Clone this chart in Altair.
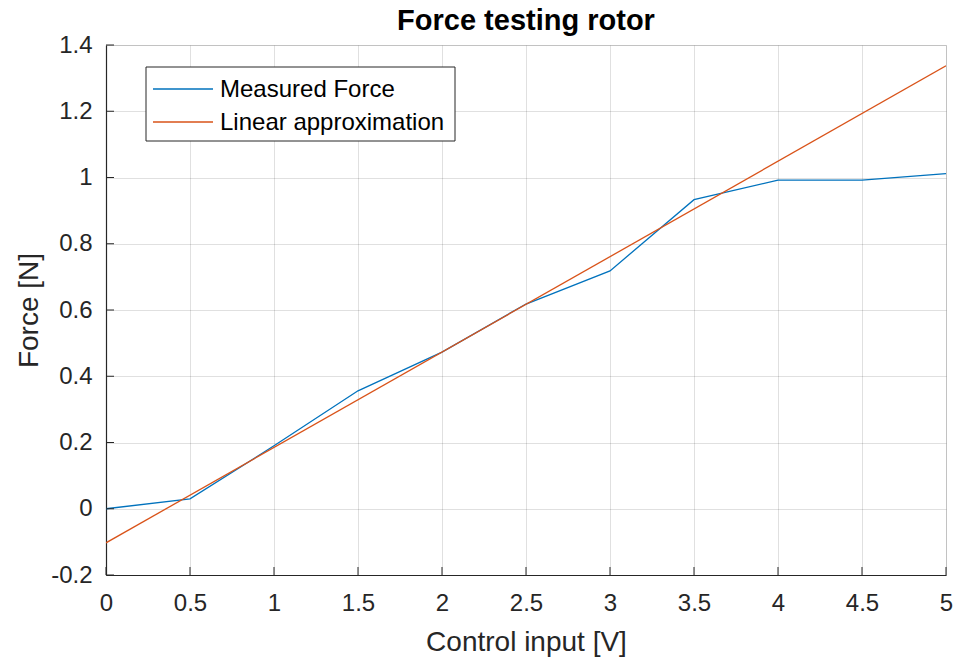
import altair as alt
import pandas as pd

# Data
control_input = [0, 0.5, 1, 1.5, 2, 2.5, 3, 3.5, 4, 4.5, 5]
measured_force = [0.0, 0.030, 0.19, 0.356, 0.473, 0.618, 0.718, 0.933, 0.992, 0.992, 1.012]
linear_x = [0, 5]
linear_y = [-0.103, 1.337]
x_ticks = [0, 0.5, 1, 1.5, 2, 2.5, 3, 3.5, 4, 4.5, 5]
y_ticks = [-0.2, 0, 0.2, 0.4, 0.6, 0.8, 1.0, 1.2, 1.4]
series_names = ["Measured Force", "Linear approximation"]
series_colors = ["#0072BD", "#D95319"]

rows = [{"x": a, "y": b, "series": series_names[0], "order": i}
        for i, (a, b) in enumerate(zip(control_input, measured_force))]
rows += [{"x": a, "y": b, "series": series_names[1], "order": i}
         for i, (a, b) in enumerate(zip(linear_x, linear_y))]
df = pd.DataFrame(rows)

W, H = 840, 530
FONT = "Liberation Sans"

xscale = alt.Scale(domain=[0, 5], nice=False, zero=False)
yscale = alt.Scale(domain=[-0.2, 1.4], nice=False, zero=False)

lines = alt.Chart(df).mark_line(strokeWidth=1.3, clip=True).encode(
    x=alt.X("x:Q", scale=xscale,
            axis=alt.Axis(values=x_ticks, title="Control input [V]",
                          labelExpr="'' + round(datum.value*10)/10",
                          grid=True, tickSize=0, labelPadding=16,
                          labelFlush=False, labelOverlap=False,
                          titlePadding=13)),
    y=alt.Y("y:Q", scale=yscale,
            axis=alt.Axis(values=y_ticks, title="Force [N]",
                          labelExpr="'' + round(datum.value*10)/10",
                          grid=True, tickSize=0, labelPadding=14,
                          labelFlush=False, labelOverlap=False,
                          titlePadding=7)),
    color=alt.Color("series:N",
                    scale=alt.Scale(domain=series_names, range=series_colors),
                    legend=None),
    order="order:Q",
)

xt = pd.DataFrame({"v": x_ticks})
yt = pd.DataFrame({"v": y_ticks})
xticks = alt.Chart(xt).mark_rule(color="#262626", strokeWidth=1).encode(
    x=alt.X("v:Q", scale=xscale), y=alt.value(H), y2=alt.value(H - 8))
yticks = alt.Chart(yt).mark_rule(color="#262626", strokeWidth=1).encode(
    y=alt.Y("v:Q", scale=yscale), x=alt.value(0), x2=alt.value(8))

# Manual legend box (MATLAB style)
one = pd.DataFrame({"k": [0]})
legend_box = alt.Chart(one).mark_rect(fill="white", stroke="#262626",
                                      strokeWidth=1).encode(
    x=alt.value(40), x2=alt.value(349), y=alt.value(22), y2=alt.value(96))
legend_layers = [legend_box]
for i, (name, col) in enumerate(zip(series_names, series_colors)):
    yy = 44 + 33 * i
    legend_layers.append(
        alt.Chart(one).mark_rule(color=col, strokeWidth=1.3).encode(
            x=alt.value(47), x2=alt.value(107), y=alt.value(yy)))
    legend_layers.append(
        alt.Chart(one).mark_text(text=name, align="left", baseline="middle",
                                 font=FONT, fontSize=24, color="#000000").encode(
            x=alt.value(114), y=alt.value(yy + 1)))

chart = alt.layer(lines, xticks, yticks, *legend_layers).properties(
    width=W, height=H,
    background="white",
    title=alt.TitleParams("Force testing rotor", fontSize=29, font=FONT,
                          fontWeight="bold", color="#000000", anchor="middle",
                          offset=5, dy=8),
    autosize=alt.AutoSizeParams(type="none"),
    padding={"left": 106, "top": 45, "right": 8, "bottom": 87},
).configure_view(
    stroke="#dddddd", strokeWidth=1
).configure_axis(
    domainColor="#262626", domainWidth=1.2,
    gridColor="#000000", gridOpacity=0.12, gridWidth=1,
    labelFont=FONT, labelFontSize=24, labelColor="#262626",
    titleFont=FONT, titleFontSize=28, titleColor="#262626",
    titleFontWeight="normal",
)

chart.save("out.html", embed_options={"renderer": "svg", "actions": False})
